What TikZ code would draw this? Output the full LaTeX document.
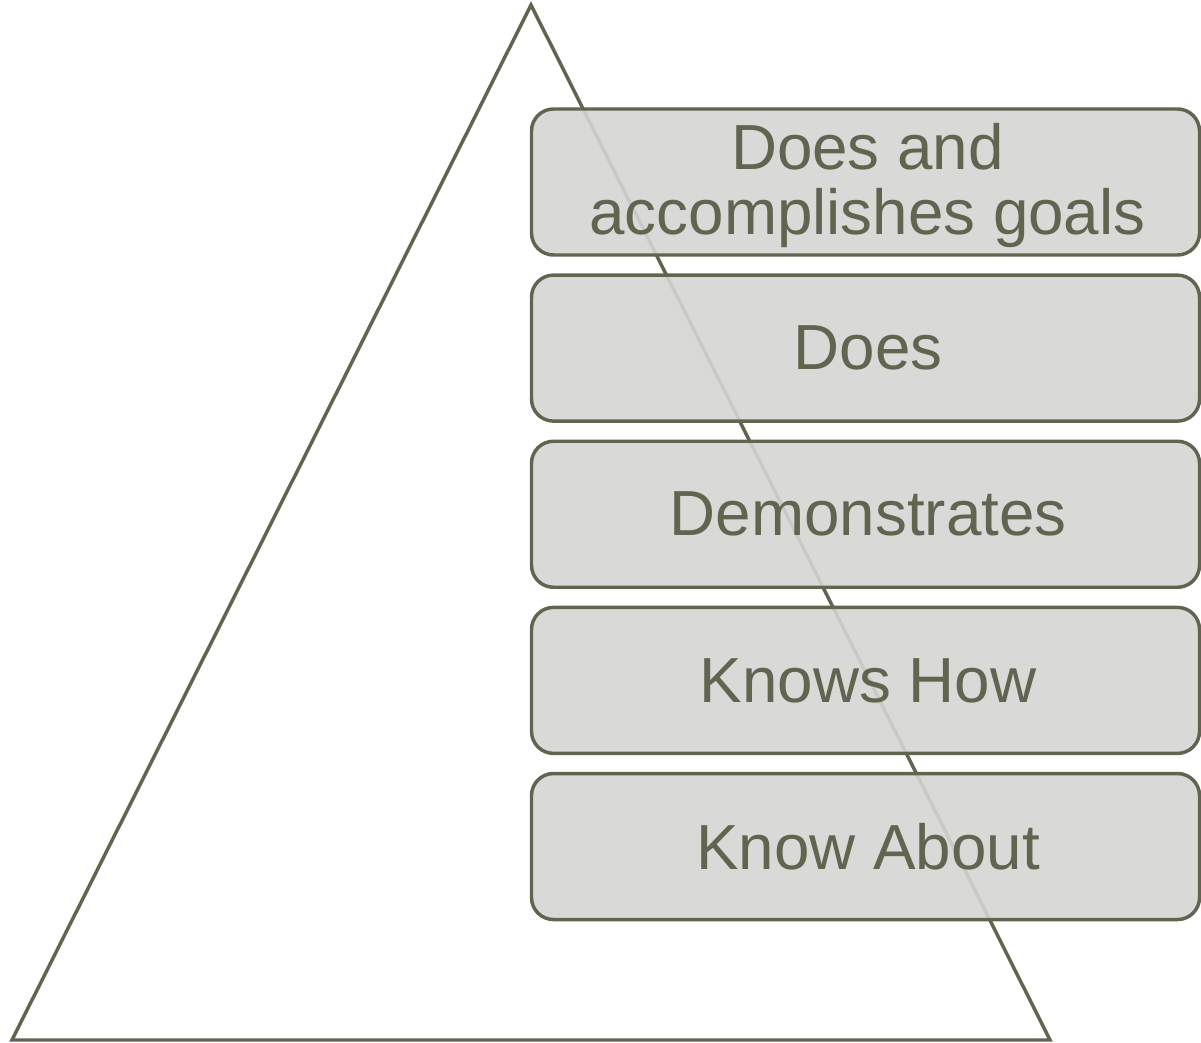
\documentclass[tikz,border=0pt]{standalone}
\usepackage{fontspec}
\setmainfont{Liberation Sans}
\usetikzlibrary{positioning}
\definecolor{olivedrab}{RGB}{98,100,80}
\definecolor{boxgray}{RGB}{213,213,211}
\tikzset{
  level/.style={rectangle,rounded corners=16.5pt,draw=olivedrab,line width=2.6pt,
    fill=boxgray,fill opacity=0.9,text opacity=1,text=olivedrab,align=center,
    minimum width=501pt,minimum height=109.5pt,inner sep=0pt,
    font=\fontsize{47.8}{49}\selectfont},
  outline/.style={draw=olivedrab,line width=2.6pt,line join=miter}
}
\begin{document}
\begin{tikzpicture}[x=0.75pt,y=0.75pt,node distance=12.5pt]
  \useasboundingbox (0,0) rectangle (1201,1042);
  % pyramid outline behind the levels
  \coordinate (apex) at (531,1037);
  \coordinate (baseL) at (12,2);
  \coordinate (baseR) at (1050,2);
  \draw[outline] (apex) -- (baseR) -- (baseL) -- cycle;
  % the five levels, top to bottom
  \node[level] (goals) at (865.5,860) {\rule{0pt}{40pt}\hspace*{3pt}Does and\\\hspace*{3pt}accomplishes goals};
  \node[level,below=of goals] (does) {\hspace*{4pt}Does};
  \node[level,below=of does] (demo) {\hspace*{4pt}Demonstrates};
  \node[level,below=of demo] (knowshow) {\hspace*{4pt}Knows How};
  \node[level,below=of knowshow] (knowabout) {\hspace*{4pt}Know About};
\end{tikzpicture}
\end{document}
